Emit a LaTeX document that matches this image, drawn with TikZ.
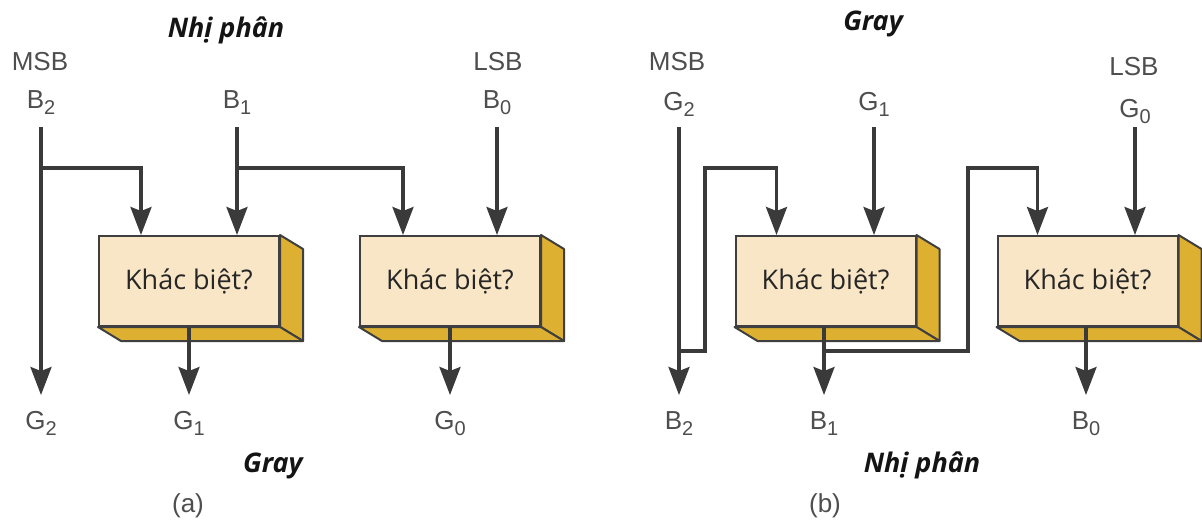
\documentclass[tikz,border=0pt]{standalone}
\usepackage{fontspec}
\setmainfont{Liberation Sans}
\newfontfamily\boxfont{Open Sans}
\usetikzlibrary{arrows.meta}

\definecolor{wirec}{HTML}{3A3A3A}
\definecolor{facec}{HTML}{F8E6C6}
\definecolor{goldc}{HTML}{DEB032}
\definecolor{edgec}{HTML}{3F3F3F}
\definecolor{labelc}{HTML}{4E4E4E}

% lowered index digit for signal names
\newcommand\idx[1]{\raisebox{-3pt}{\fontsize{10}{11}\selectfont #1}}

% right and bottom faces of a raised box
\newcommand\drawdepth[1]{%
  \filldraw[fill=goldc,draw=edgec,line width=1pt,line join=round]
    (#1.north east) -- ++(23,14) -- ([shift={(23,14)}]#1.south east) -- (#1.south east) -- cycle;
  \filldraw[fill=goldc,draw=edgec,line width=1pt,line join=round]
    (#1.south west) -- ++(23,14) -- ([shift={(23,14)}]#1.south east) -- (#1.south east) -- cycle;
}

\begin{document}
\begin{tikzpicture}[x=0.5pt,y=-0.5pt,
  wire/.style={draw=wirec,line width=1.6pt},
  arr/.style={wire,-{Stealth[length=14pt,width=10.5pt,inset=2pt]}},
  lbl/.style={text=labelc,font=\fontsize{13}{15}\selectfont,inner sep=0pt,anchor=base},
  ttl/.style={text=black!92,font=\boxfont\bfseries\itshape\fontsize{13.5}{16}\selectfont,inner sep=0pt,anchor=base},
  xorbox/.style={draw=edgec,line width=1pt,fill=facec,minimum width=90pt,minimum height=45pt,
    inner sep=0pt,font=\boxfont\fontsize{13.5}{15}\selectfont,text=black!85},
]
\fill[white] (0,0) rectangle (1202,526);
\useasboundingbox (0,0) rectangle (1202,526);

% shared rows
\coordinate (top) at (0,127);
\coordinate (bot) at (0,395);
\coordinate (split) at (0,168);
\coordinate (loop) at (0,351);

% ---------- (a) binary to Gray ----------
\node[ttl] (tA) at (226,37) {Nhị phân};
\node[lbl] (msbA) at (40,70) {MSB};
\node[lbl] (lsbA) at (498,70) {LSB};
\node[lbl] (B2a) at (41,108) {B\idx{2}};
\node[lbl] (B1a) at (237,108) {B\idx{1}};
\node[lbl] (B0a) at (497,108) {B\idx{0}};

\node[xorbox] (k1) at (189,281) {Khác biệt?};
\node[xorbox] (k2) at (450,281) {Khác biệt?};
\drawdepth{k1}
\drawdepth{k2}
\coordinate (k1in) at ([xshift=21.5pt]k1.north west);
\coordinate (k2in) at ([xshift=22pt]k2.north west);

\node[lbl] (G2a) at (41,429) {G\idx{2}};
\node[lbl] (G1a) at (189,429) {G\idx{1}};
\node[lbl] (G0a) at (450,429) {G\idx{0}};
\node[ttl] (tA2) at (273,472) {Gray};
\node[lbl] (capA) at (188,512) {(a)};

\draw[arr] (B2a |- top) -- (G2a |- bot);
\draw[arr] (B2a |- split) -| (k1in);
\draw[arr] (B1a |- top) -- (B1a |- k1.north);
\draw[arr] (B1a |- split) -| (k2in);
\draw[arr] (B0a |- top) -- (B0a |- k2.north);
\draw[arr] (G1a |- k1.south) -- (G1a |- bot);
\draw[arr] (G0a |- k2.south) -- (G0a |- bot);

% ---------- (b) Gray to binary ----------
\node[ttl] (tB) at (873,30) {Gray};
\node[lbl] (msbB) at (677,70) {MSB};
\node[lbl] (lsbB) at (1134,75) {LSB};
\node[lbl] (G2b) at (679,110) {G\idx{2}};
\node[lbl] (G1b) at (874,110) {G\idx{1}};
\node[lbl] (G0b) at (1135,117) {G\idx{0}};

\node[xorbox] (k3) at (825.5,281) {Khác biệt?};
\node[xorbox] (k4) at (1087.5,281) {Khác biệt?};
\drawdepth{k3}
\drawdepth{k4}
\coordinate (k3in) at ([xshift=21pt]k3.north west);
\coordinate (k4in) at ([xshift=20.5pt]k4.north west);
\coordinate (jog1) at (705,168);
\coordinate (jog2) at (968,168);

\node[lbl] (B2b) at (679,429) {B\idx{2}};
\node[lbl] (B1b) at (824,429) {B\idx{1}};
\node[lbl] (B0b) at (1086,429) {B\idx{0}};
\node[ttl] (tB2) at (922,472) {Nhị phân};
\node[lbl] (capB) at (825,512) {(b)};

\draw[arr] (G2b |- top) -- (B2b |- bot);
\draw[arr] (G2b |- loop) -| (jog1) -| (k3in);
\draw[arr] (G1b |- top) -- (G1b |- k3.north);
\draw[arr] (B1b |- k3.south) -- (B1b |- bot);
\draw[arr] (B1b |- loop) -| (jog2) -| (k4in);
\draw[arr] (G0b |- top) -- (G0b |- k4.north);
\draw[arr] (B0b |- k4.south) -- (B0b |- bot);
\end{tikzpicture}
\end{document}
